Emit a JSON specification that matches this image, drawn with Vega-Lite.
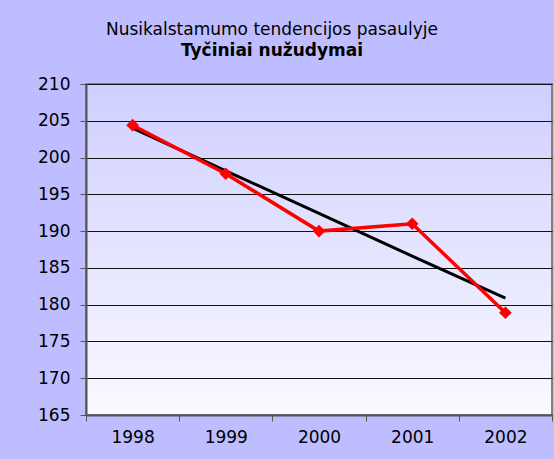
{
  "$schema": "https://vega.github.io/schema/vega-lite/v6.json",
  "width": 466,
  "height": 331,
  "autosize": {"type": "none"},
  "padding": {"left": 86, "top": 84, "right": 2, "bottom": 44},
  "background": "#bdbdff",
  "title": {
    "text": "Nusikalstamumo tendencijos pasaulyje",
    "subtitle": "Tyčiniai nužudymai",
    "anchor": "middle",
    "dx": -47,
    "offset": 15,
    "font": "DejaVu Sans",
    "fontSize": 17,
    "fontWeight": "normal",
    "color": "#000000",
    "subtitleFont": "DejaVu Sans",
    "subtitleFontSize": 17,
    "subtitleFontWeight": "bold",
    "subtitleColor": "#000000",
    "subtitlePadding": 4
  },
  "data": {
    "values": [
      {"year": "1998", "value": 204.4, "trend": 204.0},
      {"year": "1999", "value": 197.8, "trend": 198.2},
      {"year": "2000", "value": 190.0, "trend": 192.4},
      {"year": "2001", "value": 191.0, "trend": 186.6},
      {"year": "2002", "value": 178.9, "trend": 180.9}
    ]
  },
  "encoding": {
    "x": {
      "field": "year",
      "type": "ordinal",
      "scale": {"type": "band", "paddingInner": 0, "paddingOuter": 0},
      "axis": {
        "title": null,
        "labelAngle": 0,
        "tickBand": "extent",
        "tickSize": 6,
        "tickColor": "#555555",
        "domainColor": "#555555",
        "domainWidth": 2,
        "labelFont": "DejaVu Sans",
        "labelFontSize": 17,
        "labelColor": "#000000",
        "labelPadding": 8,
        "grid": false
      }
    }
  },
  "layer": [
    {
      "mark": {"type": "line", "color": "#000000", "strokeWidth": 3},
      "encoding": {
        "y": {
          "field": "trend",
          "type": "quantitative",
          "scale": {"domain": [165, 210], "zero": false, "nice": false},
          "axis": {
            "title": null,
            "values": [165, 170, 175, 180, 185, 190, 195, 200, 205, 210],
            "labelOverlap": false,
            "labelFlush": false,
            "labelBound": false,
            "tickSize": 6,
            "tickColor": "#555555",
            "domainColor": "#555555",
            "domainWidth": 2,
            "gridColor": "#111111",
            "gridWidth": 1,
            "labelFont": "DejaVu Sans",
            "labelFontSize": 17,
            "labelColor": "#000000",
            "labelPadding": 10
          }
        }
      }
    },
    {
      "mark": {"type": "line", "color": "#ff0000", "strokeWidth": 3.5, "point": {"shape": "diamond", "size": 160, "filled": true, "color": "#ff0000"}},
      "encoding": {
        "y": {
          "field": "value",
          "type": "quantitative",
          "scale": {"domain": [165, 210], "zero": false, "nice": false},
          "axis": {
            "title": null,
            "values": [165, 170, 175, 180, 185, 190, 195, 200, 205, 210],
            "labelOverlap": false,
            "labelFlush": false,
            "labelBound": false,
            "tickSize": 6,
            "tickColor": "#555555",
            "domainColor": "#555555",
            "domainWidth": 2,
            "gridColor": "#111111",
            "gridWidth": 1,
            "labelFont": "DejaVu Sans",
            "labelFontSize": 17,
            "labelColor": "#000000",
            "labelPadding": 10
          }
        }
      }
    }
  ],
  "config": {
    "view": {
      "fill": {"gradient": "linear", "x1": 0, "y1": 0, "x2": 0, "y2": 1, "stops": [{"offset": 0, "color": "#cfcfff"}, {"offset": 1, "color": "#fafaff"}]},
      "stroke": "#808080",
      "strokeWidth": 2
    }
  }
}
